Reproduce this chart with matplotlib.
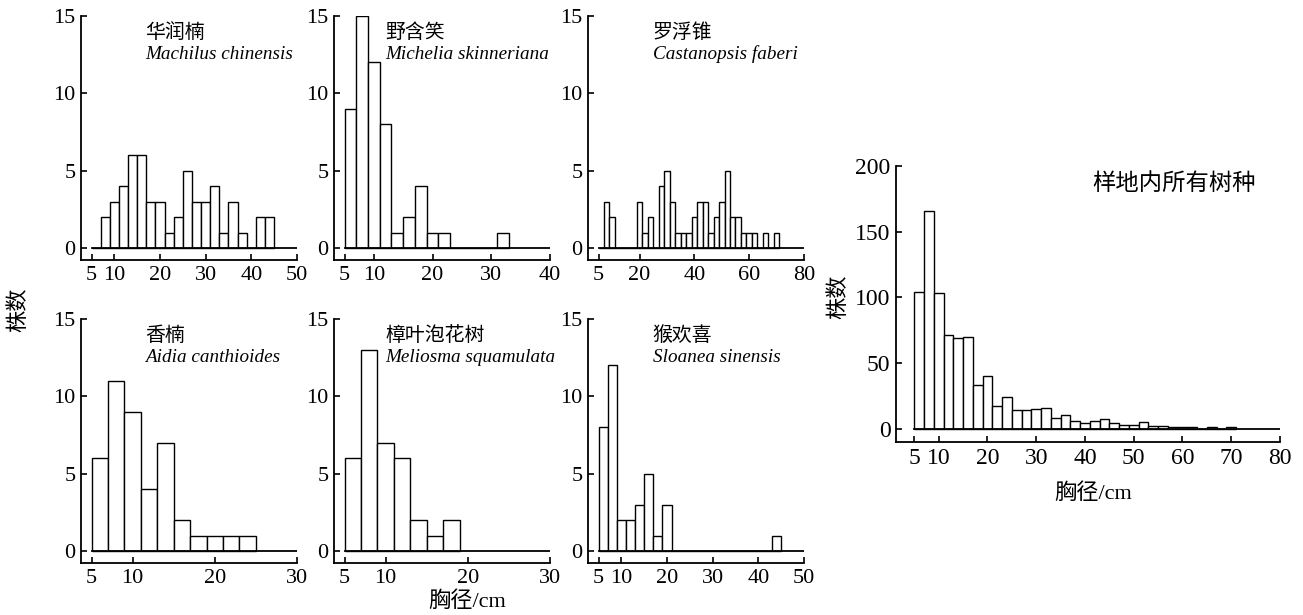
import matplotlib
matplotlib.use("Agg")
import matplotlib.pyplot as plt
import numpy as np

# DBH classes: 2 cm bins starting at 5 cm, counts per bin
machilus = [0, 2, 3, 4, 6, 6, 3, 3, 1, 2, 5, 3, 3, 4, 1, 3, 1, 0, 2, 2]
michelia = [9, 15, 12, 8, 1, 2, 4, 1, 1, 0, 0, 0, 0, 1]
castanopsis = [0, 3, 2, 0, 0, 0, 0, 3, 1, 2, 0, 4, 5, 3, 1, 1, 1, 2, 3, 3,
               1, 2, 3, 5, 2, 2, 1, 1, 1, 0, 1, 0, 1]
aidia = [6, 11, 9, 4, 7, 2, 1, 1, 1, 1]
meliosma = [6, 13, 7, 6, 2, 1, 2]
sloanea = [8, 12, 2, 2, 3, 5, 1, 3, 0, 0, 0, 0, 0, 0, 0, 0, 0, 0, 0, 1]
all_trees = [104, 166, 103, 71, 69, 70, 33, 40, 17, 24, 14, 14, 15, 16, 8, 10,
             6, 4, 6, 7, 4, 3, 3, 5, 2, 2, 1, 1, 1, 0, 1, 0, 1]

cn_names = ["华润楠", "野含笑", "罗浮锥", "香楠", "樟叶泡花树", "猴欢喜"]
latin_names = ["Machilus chinensis", "Michelia skinneriana", "Castanopsis faberi",
               "Aidia canthioides", "Meliosma squamulata", "Sloanea sinensis"]
xmax_list = [50, 40, 80, 30, 30, 50]
xticks_list = [[5, 10, 20, 30, 40, 50], [5, 10, 20, 30, 40], [5, 20, 40, 60, 80],
               [5, 10, 20, 30], [5, 10, 20, 30], [5, 10, 20, 30, 40, 50]]
counts_list = [machilus, michelia, castanopsis, aidia, meliosma, sloanea]

SERIF = ["Liberation Serif", "Noto Sans CJK SC"]
CJK = ["Noto Sans CJK SC", "DejaVu Sans"]

fig = plt.figure(figsize=(13.03, 6.15), dpi=100)
W, H = 1303.0, 615.0


def px_axes(left, right, top, bottom):
    return fig.add_axes([left / W, 1 - bottom / H, (right - left) / W, (bottom - top) / H])


def style_axes(ax, fs=16):
    ax.spines["top"].set_visible(False)
    ax.spines["right"].set_visible(False)
    for s in ["left", "bottom"]:
        ax.spines[s].set_linewidth(1.3)
    ax.tick_params(direction="in", length=4, width=1.2, labelsize=fs, pad=4)
    for lab in ax.get_xticklabels() + ax.get_yticklabels():
        lab.set_family(SERIF)


def draw_hist(ax, counts, xmax):
    edges = 5 + 2 * np.arange(len(counts))
    ax.bar(edges, counts, width=2, align="edge", color="white",
           edgecolor="black", linewidth=1.0, zorder=2)
    ax.plot([5, xmax], [0, 0], color="black", linewidth=1.3, zorder=3)


# small panels: pixel boxes (left spine, right end, top, x-axis line)
boxes = [(81, 297, 16, 260), (334, 550, 16, 260), (588, 804, 16, 260),
         (81, 297, 319, 563), (334, 550, 319, 563), (588, 804, 319, 563)]

for i, (l, r, t, b) in enumerate(boxes):
    ax = px_axes(l, r, t, b)
    xmax = xmax_list[i]
    draw_hist(ax, counts_list[i], xmax)
    ppu_x = (r - l - 10.5) / (xmax - 5)
    ax.set_xlim(5 - 10.5 / ppu_x, xmax)
    ppu_y = (b - t - 12) / 15.0
    ax.set_ylim(-12 / ppu_y, 15)
    ax.set_xticks(xticks_list[i])
    ax.set_yticks([0, 5, 10, 15])
    style_axes(ax)
    tx = [0.296, 0.236, 0.30, 0.296, 0.236, 0.30][i]
    ax.text(tx, 0.932, cn_names[i], transform=ax.transAxes, fontsize=14.3,
            family=CJK, va="center", ha="left")
    ax.text(tx, 0.843, latin_names[i], transform=ax.transAxes, fontsize=13.8,
            family="Liberation Serif", style="italic", va="center", ha="left")

fig.text(18 / W, 1 - 310 / H, "株数", rotation=90, fontsize=16, family=CJK,
         va="center", ha="center")
fig.text(467 / W, 1 - 602 / H, "胸径/cm", fontsize=16, family=SERIF,
         va="center", ha="center")

# all species panel
ax = px_axes(896, 1280, 166, 442)
draw_hist(ax, all_trees, 80)
ax.set_xlim(5 - 18.3 / 4.876, 80)
ax.set_ylim(-10.2, 200)
ax.set_xticks([5, 10, 20, 30, 40, 50, 60, 70, 80])
ax.set_yticks([0, 50, 100, 150, 200])
style_axes(ax, fs=17)
ax.text(0.51, 0.938, "样地内所有树种", transform=ax.transAxes, fontsize=16.8,
        family=CJK, va="center", ha="left")
fig.text(838 / W, 1 - 297 / H, "株数", rotation=90, fontsize=16, family=CJK,
         va="center", ha="center")
fig.text(1093 / W, 1 - 494 / H, "胸径/cm", fontsize=16, family=SERIF,
         va="center", ha="center")

fig.savefig("out.png", dpi=100, facecolor="white")
